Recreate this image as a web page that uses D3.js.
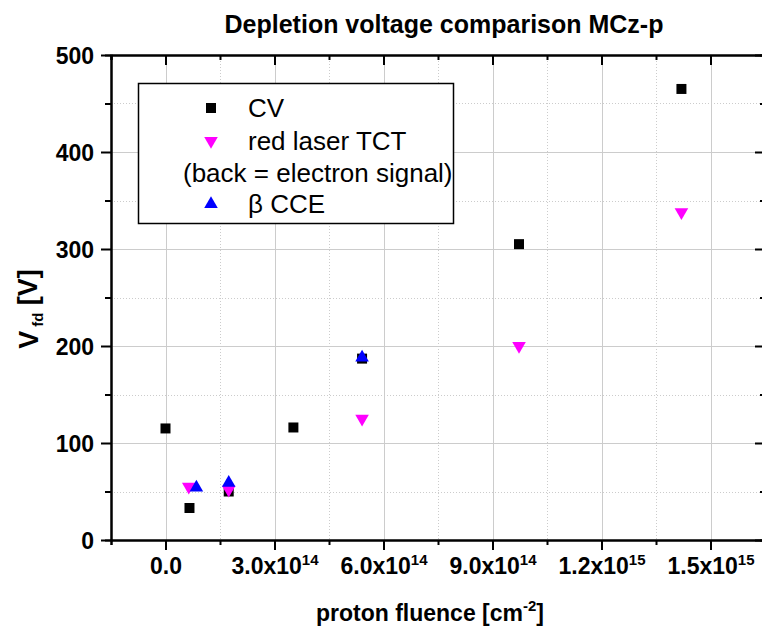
<!DOCTYPE html>
<html lang="en">
<head>
<meta charset="utf-8">
<title>Depletion voltage comparison MCz-p</title>
<script src="https://d3js.org/d3.v7.min.js"></script>
<style>
    body { margin: 0; background: #fff; }
    svg { display: block; font-family: "Liberation Sans", Arial, sans-serif; }
</style>
</head>
<body>
<div id="chart1"></div>
<script>

// CV measurements (black squares)
const cvFluence = [0, 0.66e14, 1.74e14, 3.52e14, 5.41e14, 9.73e14, 1.42e15];
const cvVoltage = [115, 33, 50, 116, 187, 305, 465];

// red laser TCT (magenta, down triangles)
const tctFluence = [0.64e14, 1.74e14, 5.41e14, 9.73e14, 1.42e15];
const tctVoltage = [55, 52, 125, 200, 338];

// beta CCE (blue, up triangles)
const cceFluence = [0.85e14, 1.74e14, 5.41e14];
const cceVoltage = [54, 59, 188];

const xMajor = [0, 3e14, 6e14, 9e14, 1.2e15, 1.5e15];
const xMajorLabels = [["0.0", ""], ["3.0x10", "14"], ["6.0x10", "14"], ["9.0x10", "14"], ["1.2x10", "15"], ["1.5x10", "15"]];
const xMinor = [-1.5e14, 1.5e14, 4.5e14, 7.5e14, 1.05e15, 1.35e15];
const yMajor = [0, 100, 200, 300, 400, 500];
const yMinor = [50, 150, 250, 350, 450];

const W = 762, H = 633;
const plot = {left: 111, right: 765, top: 55, bottom: 540};
const FONT = "'Liberation Sans', Arial, sans-serif";

const svg = d3.select("#chart1").append("svg")
    .attr("width", W).attr("height", H);

const x = d3.scaleLinear().domain([-1.5e14, 1.65e15]).range([plot.left, plot.right]);
const y = d3.scaleLinear().domain([0, 500]).range([plot.bottom, plot.top]);

// grid
const grid = svg.append("g").attr("stroke", "#cccccc").attr("stroke-width", 1);
grid.selectAll(".vmaj").data(xMajor).join("line")
    .attr("x1", d => Math.round(x(d)) + 0.5).attr("x2", d => Math.round(x(d)) + 0.5)
    .attr("y1", plot.top).attr("y2", plot.bottom);
grid.selectAll(".vmin").data(xMinor.slice(1)).join("line")
    .attr("x1", d => Math.round(x(d)) + 0.5).attr("x2", d => Math.round(x(d)) + 0.5)
    .attr("y1", plot.top).attr("y2", plot.bottom)
    .attr("stroke-dasharray", "1,2");
grid.selectAll(".hmaj").data(yMajor.slice(1, -1)).join("line")
    .attr("y1", d => Math.round(y(d)) + 0.5).attr("y2", d => Math.round(y(d)) + 0.5)
    .attr("x1", plot.left).attr("x2", plot.right);
grid.selectAll(".hmin").data(yMinor).join("line")
    .attr("y1", d => Math.round(y(d)) + 0.5).attr("y2", d => Math.round(y(d)) + 0.5)
    .attr("x1", plot.left).attr("x2", plot.right)
    .attr("stroke-dasharray", "1,2");

// axes
function styleAxis(g) {
    g.attr("font-family", FONT).attr("font-size", 23).attr("font-weight", "bold");
    g.select(".domain").attr("stroke-width", 2);
    g.selectAll(".tick line").attr("stroke-width", 2);
    g.selectAll(".tick text").attr("fill", "#000");
}

// bottom
svg.append("g").attr("transform", `translate(0,${plot.bottom})`)
    .call(d3.axisBottom(x).tickValues(xMinor).tickSize(5).tickFormat(""))
    .call(styleAxis);
const xAx = svg.append("g").attr("transform", `translate(0,${plot.bottom})`)
    .call(d3.axisBottom(x).tickValues(xMajor).tickSize(10).tickSizeOuter(0).tickPadding(8))
    .call(styleAxis);
xAx.selectAll(".tick text").each(function(d, i) {
    const t = d3.select(this).text(xMajorLabels[i][0]);
    if (xMajorLabels[i][1]) {
        t.append("tspan").attr("font-size", 15).attr("dy", "-0.6em").text(xMajorLabels[i][1]);
    }
});
// top
svg.append("g").attr("transform", `translate(0,${plot.top})`)
    .call(d3.axisTop(x).tickValues(xMinor).tickSize(-5).tickFormat(""))
    .call(styleAxis);
svg.append("g").attr("transform", `translate(0,${plot.top})`)
    .call(d3.axisTop(x).tickValues(xMajor).tickSize(-10).tickSizeOuter(0).tickFormat(""))
    .call(styleAxis);
// left
svg.append("g").attr("transform", `translate(${plot.left},0)`)
    .call(d3.axisLeft(y).tickValues(yMinor).tickSize(6).tickFormat(""))
    .call(styleAxis);
svg.append("g").attr("transform", `translate(${plot.left},0)`)
    .call(d3.axisLeft(y).tickValues(yMajor).tickSize(10).tickSizeOuter(0).tickPadding(7).tickFormat(d3.format("d")))
    .call(styleAxis)
    .selectAll(".tick text").attr("dy", "0.36em");
// right
svg.append("g").attr("transform", `translate(${plot.right},0)`)
    .call(d3.axisRight(y).tickValues(yMinor).tickSize(-5).tickFormat(""))
    .call(styleAxis);
svg.append("g").attr("transform", `translate(${plot.right},0)`)
    .call(d3.axisRight(y).tickValues(yMajor).tickSize(-10).tickSizeOuter(0).tickFormat(""))
    .call(styleAxis);

// markers
const sq = d3.symbol().type(d3.symbolSquare).size(100);
const tri = d3.symbol().type(d3.symbolTriangle).size(80);

svg.append("g").selectAll("path").data(d3.zip(cvFluence, cvVoltage)).join("path")
    .attr("d", sq)
    .attr("transform", d => `translate(${x(d[0])},${y(d[1])})`)
    .attr("fill", "#000");
svg.append("g").selectAll("path").data(d3.zip(tctFluence, tctVoltage)).join("path")
    .attr("d", tri)
    .attr("transform", d => `translate(${x(d[0])},${y(d[1])}) rotate(180)`)
    .attr("fill", "#ff00ff");
svg.append("g").selectAll("path").data(d3.zip(cceFluence, cceVoltage)).join("path")
    .attr("d", tri)
    .attr("transform", d => `translate(${x(d[0])},${y(d[1])})`)
    .attr("fill", "#0000ff");

// legend
const leg = svg.append("g");
leg.append("rect")
    .attr("x", 138.5).attr("y", 83.5).attr("width", 315).attr("height", 140)
    .attr("fill", "#fff").attr("stroke", "#000").attr("stroke-width", 1.5);
const legItems = [
    {sym: sq, rot: 0, color: "#000", text: "CV", y: 108},
    {sym: tri, rot: 180, color: "#ff00ff", text: "red laser TCT", y: 141},
    {sym: tri, rot: 0, color: "#0000ff", text: "\u03b2 CCE", y: 204}
];
legItems.forEach(d => {
    leg.append("path").attr("d", d.sym)
        .attr("transform", `translate(211,${d.y}) rotate(${d.rot})`)
        .attr("fill", d.color);
    leg.append("text").attr("x", 248).attr("y", d.y + 9)
        .attr("font-size", 26).text(d.text);
});
leg.append("text").attr("x", 183).attr("y", 182)
    .attr("font-size", 26).text("(back = electron signal)");

// titles
svg.append("text").attr("x", 444).attr("y", 33)
    .attr("text-anchor", "middle").attr("font-weight", "bold").attr("font-size", 25)
    .text("Depletion voltage comparison MCz-p");

const xl = svg.append("text").attr("x", 430).attr("y", 621)
    .attr("text-anchor", "middle").attr("font-weight", "bold").attr("font-size", 23)
    .text("proton fluence [cm");
xl.append("tspan").attr("font-size", 15).attr("dy", "-0.65em").text("-2");
xl.append("tspan").attr("dy", "0.42em").text("]");

const yl = svg.append("text")
    .attr("transform", "translate(38,309) rotate(-90)")
    .attr("text-anchor", "middle").attr("font-weight", "bold").attr("font-size", 27)
    .text("V");
yl.append("tspan").attr("font-size", 15).attr("dy", "0.35em").attr("dx", 4).text("fd");
yl.append("tspan").attr("dy", "-0.23em").text(" [V]");

</script>
</body>
</html>
